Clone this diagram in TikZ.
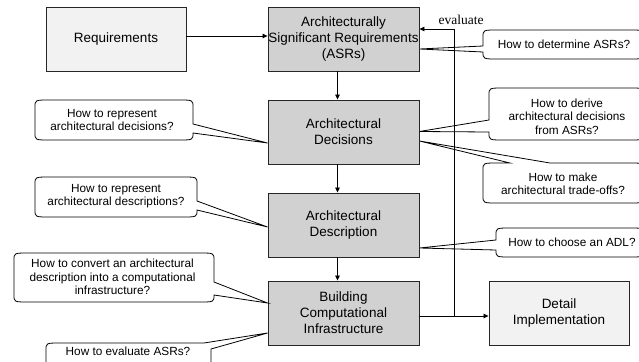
\documentclass[tikz,border=0pt]{standalone}
\usepackage{fontspec}
\setmainfont{Liberation Sans}
\newfontfamily\evfont{Liberation Serif}
\usetikzlibrary{arrows.meta}
\def\crx{15}
\def\cry{7}
% callout with wedge on the left side
\newcommand\calloutL[7]{%
  \draw[callout] (#1,#5) -- (#7) -- (#1,#6) -- (#1,{#4-\cry}) .. controls (#1,#4) .. ({#1+\crx},#4)
    -- ({#3-\crx},#4) .. controls (#3,#4) .. (#3,{#4-\cry}) -- (#3,{#2+\cry})
    .. controls (#3,#2) .. ({#3-\crx},#2) -- ({#1+\crx},#2) .. controls (#1,#2) .. (#1,{#2+\cry}) -- cycle;}
% callout with wedge on the right side
\newcommand\calloutR[7]{%
  \draw[callout] (#3,#5) -- (#7) -- (#3,#6) -- (#3,{#4-\cry}) .. controls (#3,#4) .. ({#3-\crx},#4)
    -- ({#1+\crx},#4) .. controls (#1,#4) .. (#1,{#4-\cry}) -- (#1,{#2+\cry})
    .. controls (#1,#2) .. ({#1+\crx},#2) -- ({#3-\crx},#2) .. controls (#3,#2) .. (#3,{#2+\cry}) -- cycle;}
% callout with wedge on the top side
\newcommand\calloutT[7]{%
  \draw[callout] (#5,#2) -- (#7) -- (#6,#2) -- ({#3-\crx},#2) .. controls (#3,#2) .. (#3,{#2+\cry})
    -- (#3,{#4-\cry}) .. controls (#3,#4) .. ({#3-\crx},#4) -- ({#1+\crx},#4)
    .. controls (#1,#4) .. (#1,{#4-\cry}) -- (#1,{#2+\cry}) .. controls (#1,#2) .. ({#1+\crx},#2) -- cycle;}
\begin{document}
\begin{tikzpicture}[x=1pt,y=-1pt,
  darkbox/.style={draw=black!85, line width=0.9pt, fill=black!18, inner sep=0pt,
    minimum width=151pt, minimum height=64pt, align=center,
    font=\fontsize{13.5}{16}\selectfont},
  lightbox/.style={draw=black!85, line width=0.9pt, fill=black!5, inner sep=0pt,
    minimum width=140pt, minimum height=64pt, align=center,
    font=\fontsize{13.5}{16}\selectfont},
  callout/.style={draw=black, line width=0.8pt, fill=white},
  cotext/.style={align=center, inner sep=0pt, font=\fontsize{11.8}{13.3}\selectfont},
  arr/.style={draw=black, line width=0.8pt, -{Triangle[length=5pt,width=4.5pt]}},
  line/.style={draw=black, line width=0.8pt}]
\clip (0,0) rectangle (639,361);

% boxes
\node[lightbox] (req) at (116,39) {Requirements};
\node[darkbox] (asr) at (343.5,39) {Architecturally\\Significant Requirements\\(ASRs)};
\node[darkbox] (dec) at (343.5,132) {Architectural\\Decisions};
\node[darkbox] (desc) at (343.5,225) {Architectural\\Description};
\node[darkbox] (build) at (343.5,313) {Building\\Computational\\Infrastructure};
\node[lightbox] (detail) at (559,313) {Detail\\Implementation};

% callout tips
\coordinate (t1) at (asr.east |- 0,49);
\coordinate (t2) at (dec.east |- 0,131.5);
\coordinate (t3) at (dec.east |- 0,141);
\coordinate (t4) at (desc.east |- 0,248);
\coordinate (t5) at (dec.west |- 0,143);
\coordinate (t6) at (desc.west |- 0,227);
\coordinate (t7) at (build.west |- 0,303);
\coordinate (t8) at (build.west |- 0,333);

% callouts
\calloutL{483}{30}{644}{59}{46}{52}{t1}
\calloutL{489}{88}{644}{140}{120}{132}{t2}
\calloutT{483}{163}{644}{203}{510}{550}{t3}
\calloutL{496}{228}{644}{257}{240}{250}{t4}
\calloutR{35}{100}{193}{140}{124}{133}{t5}
\calloutR{35}{177}{197}{217}{201}{210}{t6}
\calloutR{14}{253}{214}{302}{282}{295}{t7}
\draw[callout] ({46+\crx},343) -- (204,343) -- (t8) -- (211,349) -- (211,372)
  -- (46,372) -- (46,{343+\cry}) .. controls (46,343) .. ({46+\crx},343) -- cycle;

% callout texts
\node[cotext] (q1) at (564,44) {How to determine ASRs?};
\node[cotext] (q2) at (567,116.5) {How to derive\\architectural decisions\\from ASRs?};
\node[cotext] (q3) at (563,184) {How to make\\architectural trade-offs?};
\node[cotext] (q4) at (572,242) {How to choose an ADL?};
\node[cotext] (q5) at (112,120) {How to represent\\architectural decisions?};
\node[cotext] (q6) at (116,196) {How to represent\\architectural descriptions?};
\node[cotext] (q7) at (112.5,277) {How to convert an architectural\\description into a computational\\infrastructure?};
\node[cotext] (q8) at (128,351) {How to evaluate ASRs?};

% connectors
\draw[arr] ([yshift=3pt]req.east) -- ([yshift=3pt]asr.west);
\draw[arr] ([xshift=-6pt]asr.south) -- ([xshift=-6pt]dec.north);
\draw[arr] ([xshift=-6pt]dec.south) -- ([xshift=-6pt]desc.north);
\draw[arr] ([xshift=-6pt]desc.south) -- ([xshift=-6pt]build.north);
\coordinate (ev1) at (454,316);
\coordinate (ev2) at (454,29);
\draw[arr] (build.east |- ev1) -- (detail.west |- ev1);
\draw[arr] (ev1) -- (ev2) -- (asr.east |- ev2);
\node[font=\evfont\fontsize{13.5}{16}\selectfont, inner sep=0pt] (evlabel) at (461,20) {evaluate};
\end{tikzpicture}
\end{document}
